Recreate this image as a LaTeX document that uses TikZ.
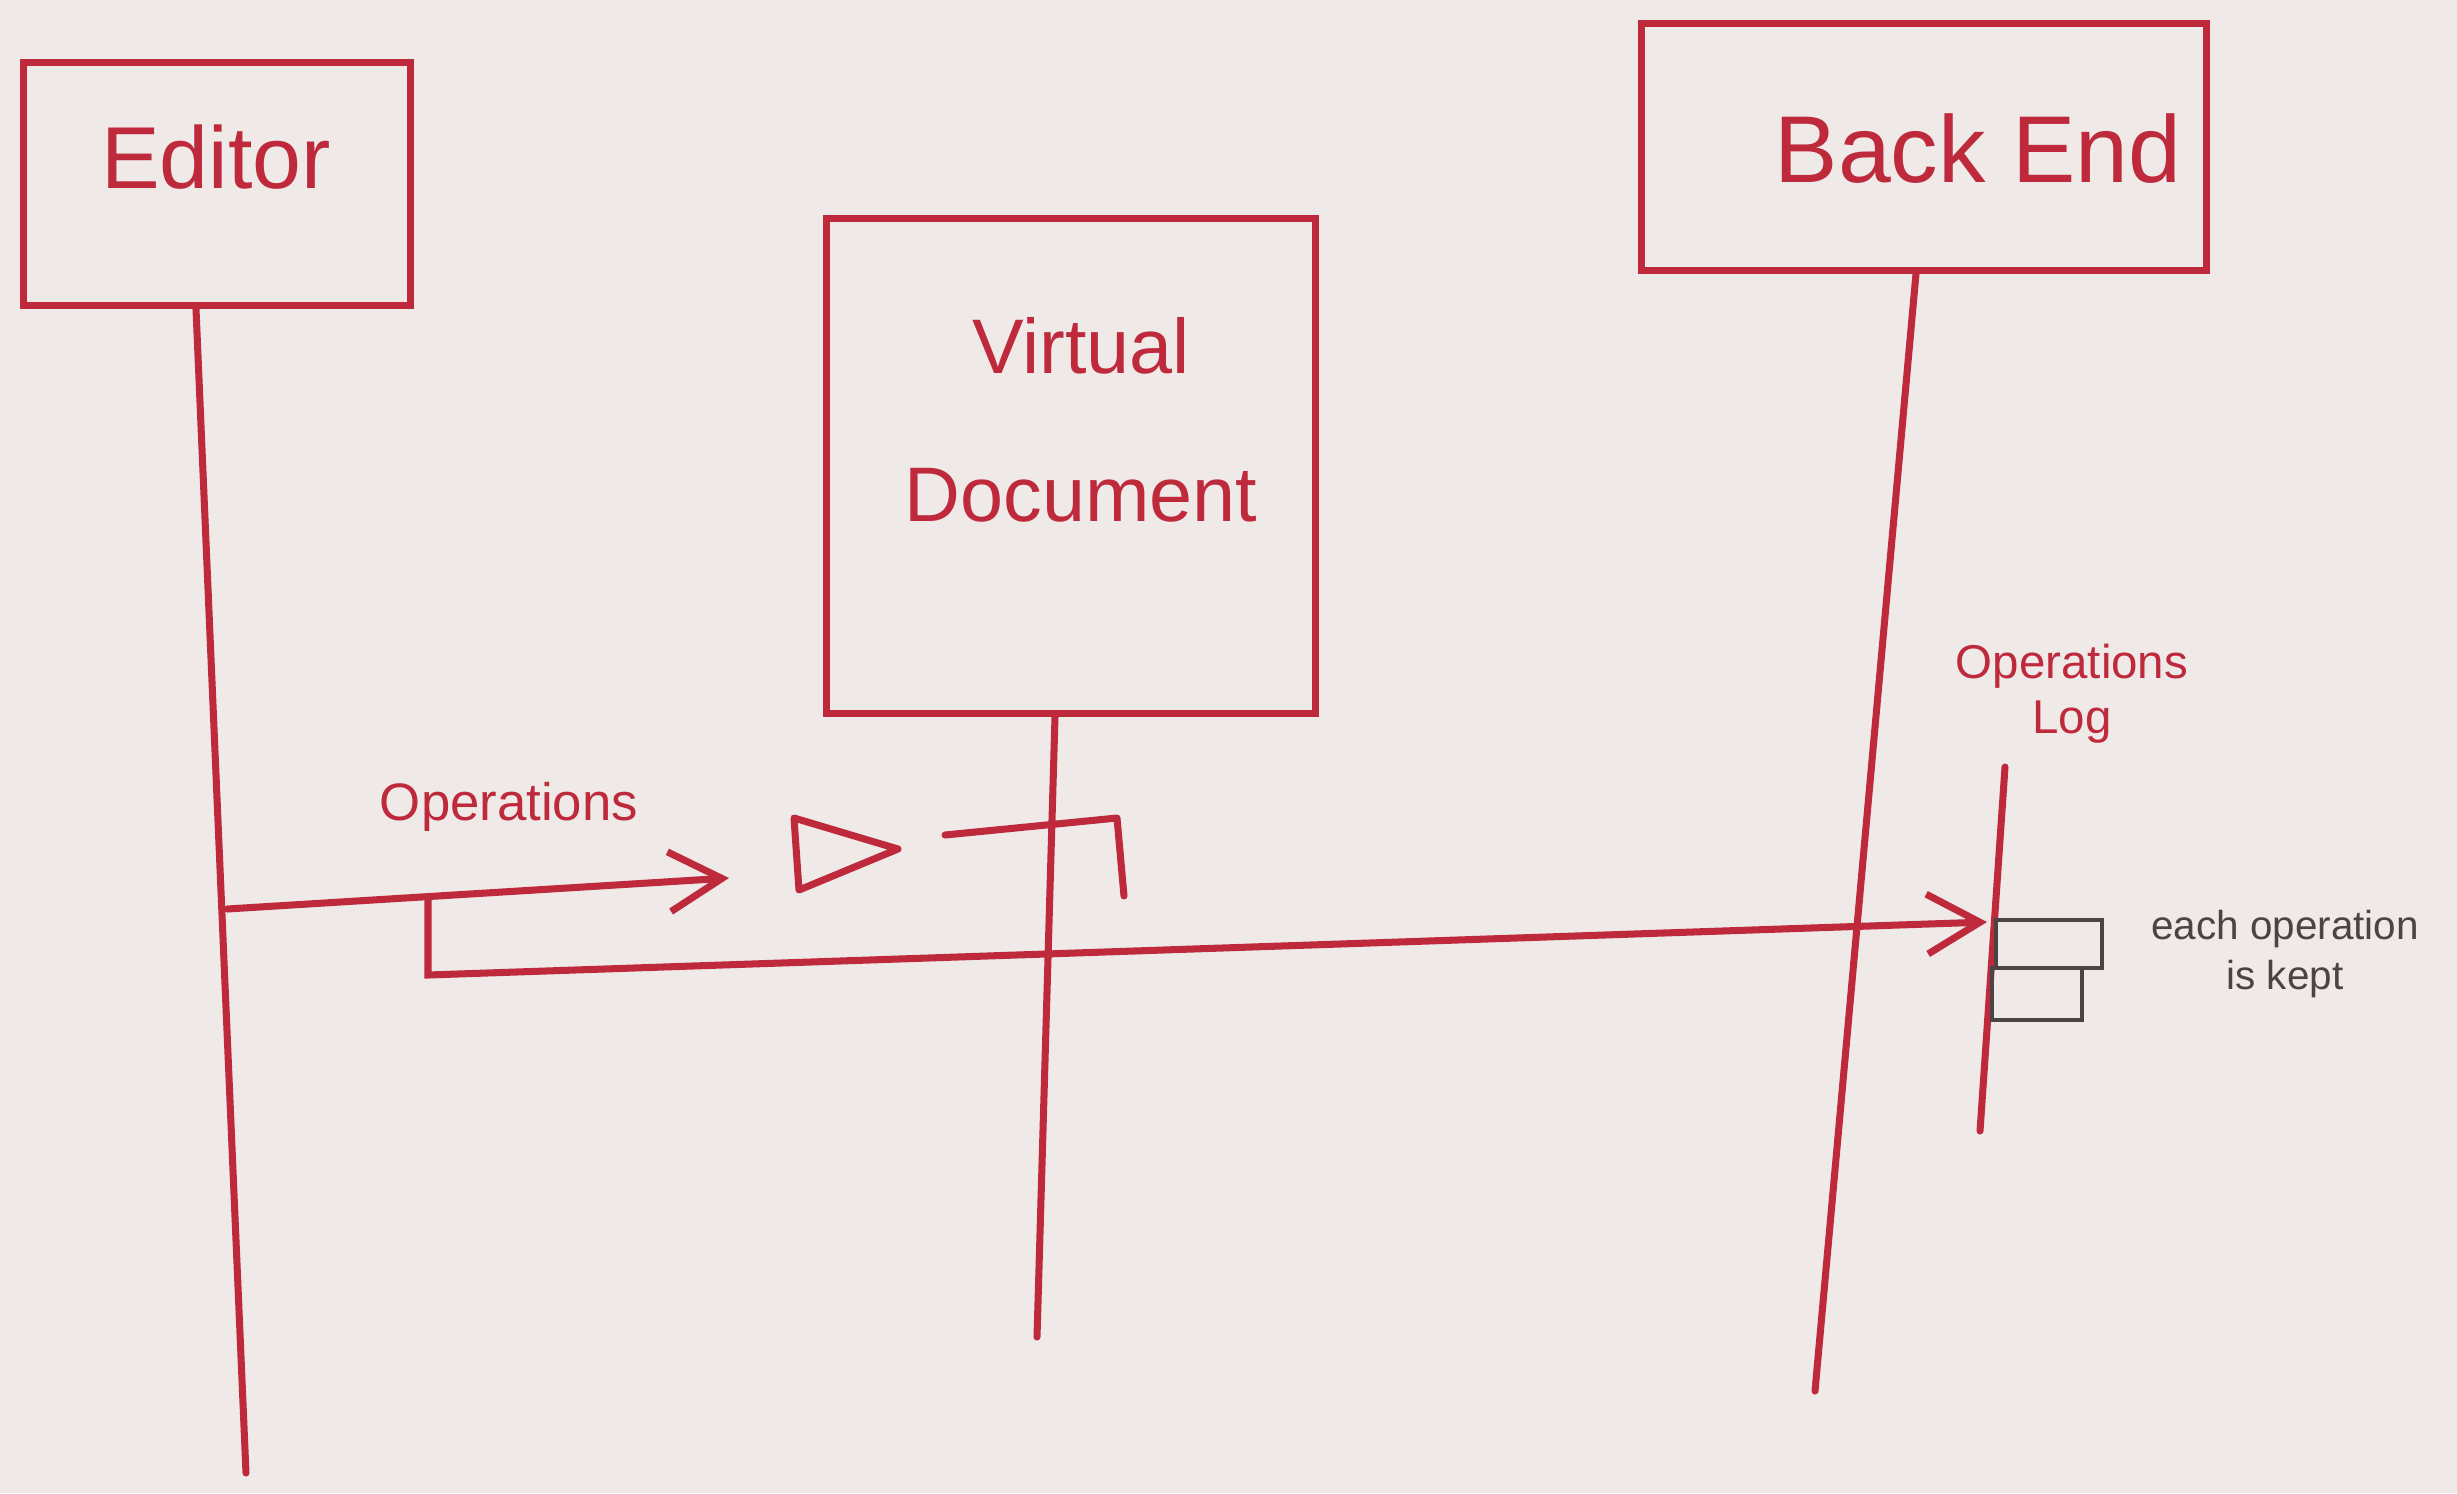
\documentclass[tikz,border=0pt]{standalone}
\usepackage{fontspec}
\setmainfont{Liberation Sans}
\usetikzlibrary{arrows.meta,calc}
\definecolor{marker}{HTML}{BE2A3C}
\definecolor{paper}{HTML}{EFE9E7}
\definecolor{pencil}{HTML}{4A4444}
\begin{document}
\begin{tikzpicture}[x = 0.01cm, y = -0.01cm,
                    lbox/.style = {shape = rectangle,
                                   draw = marker,
                                   line width = 2pt,
                                   inner sep = 0pt},
                    lline/.style = {draw = marker,
                                    line width = 2pt,
                                    line cap = round},
                    msg/.style = {lline,
                                  -{Straight Barb[length = 15pt, width = 17pt]}},
                    mtext/.style = {text = marker,
                                    align = center,
                                    inner sep = 1pt},
                    entry/.style = {draw = pencil,
                                    line width = 0.9pt}]
		\fill[paper] (0,0) rectangle (2457,1493);
		% participants
		\node[lbox, minimum width = 3.87cm, minimum height = 2.43cm] (editor) at (217,184) {};
		\node[mtext, font = \fontsize{25}{30}\selectfont] (editorName) at (216,157) {Editor};
		\node[lbox, minimum width = 4.89cm, minimum height = 4.94cm] (vdoc) at (1071,466) {};
		\node[mtext, font = \fontsize{22}{42}\selectfont] (vdocName) at (1081,420) {Virtual\\Document};
		\node[lbox, minimum width = 5.64cm, minimum height = 2.46cm] (backend) at (1924,147) {};
		\node[mtext, font = \fontsize{27}{32}\selectfont] (backendName) at (1978,149) {Back End};
		% lifelines
		\coordinate (editorEnd) at (246,1473);
		\coordinate (vdocEnd) at (1037,1337);
		\coordinate (backendEnd) at (1815,1391);
		\path[lline] ($(editor.south)+(-21,0)$) edge (editorEnd);
		\path[lline] ($(vdoc.south)+(-16,0)$) edge (vdocEnd);
		\path[lline] ($(backend.south)+(-8,0)$) edge (backendEnd);
		% operations to the virtual document
		\coordinate (opStart) at (227,909);
		\coordinate (opEnd) at (729,878);
		\draw[msg] (opStart) -- (opEnd);
		\node[mtext, font = \fontsize{15}{18}\selectfont] (opLabel) at (509,807) {Operations};
		\draw[lline, line join = round] (794,818) -- (898,849) -- (799,890) -- cycle;
		\draw[lline, line join = round] (945,835) -- (1117,818) -- (1124,896);
		% operations forwarded to the log
		\coordinate (fwdStart) at (428,898);
		\coordinate (logTop) at (2005,767);
		\coordinate (logEnd) at (1980,1131);
		\coordinate (fwdEnd) at (1987,922);
		\draw[msg] (fwdStart) -- ++(0,77) -- (fwdEnd);
		\path[lline] (logTop) edge (logEnd);
		\node[mtext, font = \fontsize{13.5}{15.6}\selectfont] (logLabel) at (2072,694) {Operations\\Log};
		\draw[entry] (1996,920) rectangle (2102,968);
		\draw[entry] (1992,968) rectangle (2082,1020);
		\node[text = pencil, align = center,
		      font = \fontsize{11.5}{14.3}\selectfont] (keptNote) at (2285,954) {each operation\\is kept};
	\end{tikzpicture}
\end{document}
